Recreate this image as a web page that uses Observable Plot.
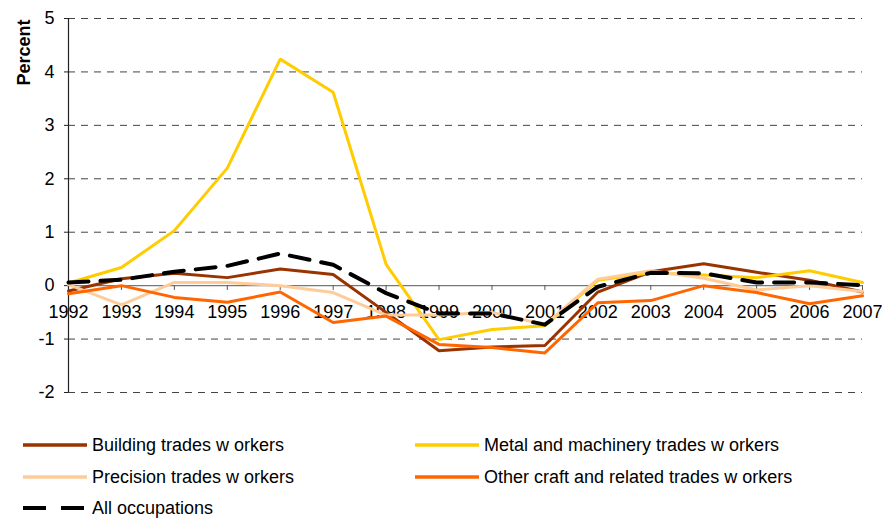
<!DOCTYPE html>
<html>
<head>
<meta charset="utf-8">
<script src="https://cdn.jsdelivr.net/npm/d3@7"></script>
<script src="https://cdn.jsdelivr.net/npm/@observablehq/plot@0.6"></script>
<style>
  html, body { margin: 0; padding: 0; background: #fff; }
  body { width: 882px; height: 518px; overflow: hidden; font-family: "Liberation Sans", Arial, sans-serif; }
  #legend { position: relative; width: 882px; height: 108px; font-size: 18px; color: #000; }
  .item { position: absolute; height: 32px; display: flex; align-items: center; }
  .item svg { display: block; margin-right: 4px; }
</style>
</head>
<body>
<div id="chart"></div>
<div id="legend"></div>
<script>
const years = [1992,1993,1994,1995,1996,1997,1998,1999,2000,2001,2002,2003,2004,2005,2006,2007];
const building  = [-0.10, 0.13, 0.23, 0.15, 0.31, 0.21, -0.50, -1.22, -1.15, -1.12, -0.12, 0.26, 0.41, 0.25, 0.10, -0.12];
const metal     = [0.05, 0.34, 1.03, 2.20, 4.24, 3.62, 0.40, -1.01, -0.82, -0.75, 0.10, 0.24, 0.20, 0.15, 0.28, 0.06];
const precision = [0.02, -0.36, 0.06, 0.06, 0.00, -0.13, -0.55, -0.55, -0.50, -0.73, 0.12, 0.28, 0.14, -0.08, 0.00, -0.11];
const other     = [-0.15, 0.00, -0.22, -0.31, -0.12, -0.69, -0.57, -1.10, -1.16, -1.26, -0.32, -0.28, 0.00, -0.13, -0.34, -0.19];
const allOcc    = [0.06, 0.11, 0.26, 0.37, 0.60, 0.39, -0.14, -0.52, -0.52, -0.73, -0.02, 0.24, 0.23, 0.06, 0.06, 0.01];

const seriesNames = ["Building trades w orkers", "Metal and machinery trades w orkers", "Precision trades w orkers", "Other craft and related trades w orkers", "All occupations"];
const seriesValues = [building, metal, precision, other, allOcc];
const seriesColors = ["#993300", "#FFCC00", "#FFCC99", "#FF6600", "#000000"];
const yTicks = [-2, -1, 0, 1, 2, 3, 4, 5];
const gridTicks = [-2, -1, 1, 2, 3, 4, 5];

const rows = [];
seriesNames.forEach((name, s) => years.forEach((yr, i) => rows.push({series: name, year: yr, value: seriesValues[s][i]})));

const font = "Liberation Sans, Arial, sans-serif";
const colored = seriesNames.slice(0, 4);

const chart = Plot.plot({
  width: 882,
  height: 410,
  marginLeft: 68,
  marginRight: 20,
  marginTop: 18,
  marginBottom: 18,
  style: {fontFamily: font, fontSize: "18px", background: "#fff", color: "#000"},
  x: {domain: [1992, 2007], axis: null},
  y: {domain: [-2, 5], axis: null},
  marks: [
    Plot.ruleY(gridTicks, {x1: 1992, x2: 2007, stroke: "#444", strokeWidth: 1, strokeDasharray: "7,6"}),
    Plot.ruleY([0], {x1: 1992, x2: 2007, stroke: "#777", strokeWidth: 1.2}),
    Plot.ruleX(years.slice(1), {x: d => d, y1: 0, y2: -0.09, stroke: "#555", strokeWidth: 1}),
    Plot.ruleX([1992], {y1: -2, y2: 5, stroke: "#222", strokeWidth: 1.2}),
    Plot.axisY({ticks: yTicks, tickSize: 4, tickPadding: 10, fontSize: 18, label: null, tickFormat: d => String(d), stroke: "#222"}),
    Plot.text(years, {x: d => d, y: 0, text: d => String(d), dy: 20, lineAnchor: "top", fontSize: 18, fill: "#000"}),
    ...colored.map((name, s) => Plot.line(rows.filter(r => r.series === name), {x: "year", y: "value", stroke: seriesColors[s], strokeWidth: 3, strokeLinejoin: "miter"})),
    Plot.line(rows.filter(r => r.series === "All occupations"), {x: "year", y: "value", stroke: "#000", strokeWidth: 4, strokeDasharray: "20,12"}),
    Plot.text(["Percent"], {frameAnchor: "top-left", dx: -44, dy: 34, rotate: -90, textAnchor: "middle", lineAnchor: "middle", fontWeight: "bold", fontSize: 18, fill: "#000"})
  ]
});
document.getElementById("chart").appendChild(chart);

// legend (centers of rows at 445, 477, 508 px from page top)
const legend = document.getElementById("legend");
const pos = [
  {left: 23, top: 35}, {left: 415, top: 35},
  {left: 23, top: 67}, {left: 415, top: 67},
  {left: 23, top: 98}
];
seriesNames.forEach((name, s) => {
  const div = document.createElement("div");
  div.className = "item";
  div.style.left = pos[s].left + "px";
  div.style.top = (pos[s].top - 16) + "px";
  const dashed = s === 4;
  div.innerHTML = `<svg width="65" height="8"><line x1="0" x2="64" y1="4" y2="4" stroke="${seriesColors[s]}" stroke-width="${dashed ? 4 : 3.5}" ${dashed ? 'stroke-dasharray="23,15"' : ''}/></svg><span>${name}</span>`;
  legend.appendChild(div);
});
</script>
</body>
</html>
